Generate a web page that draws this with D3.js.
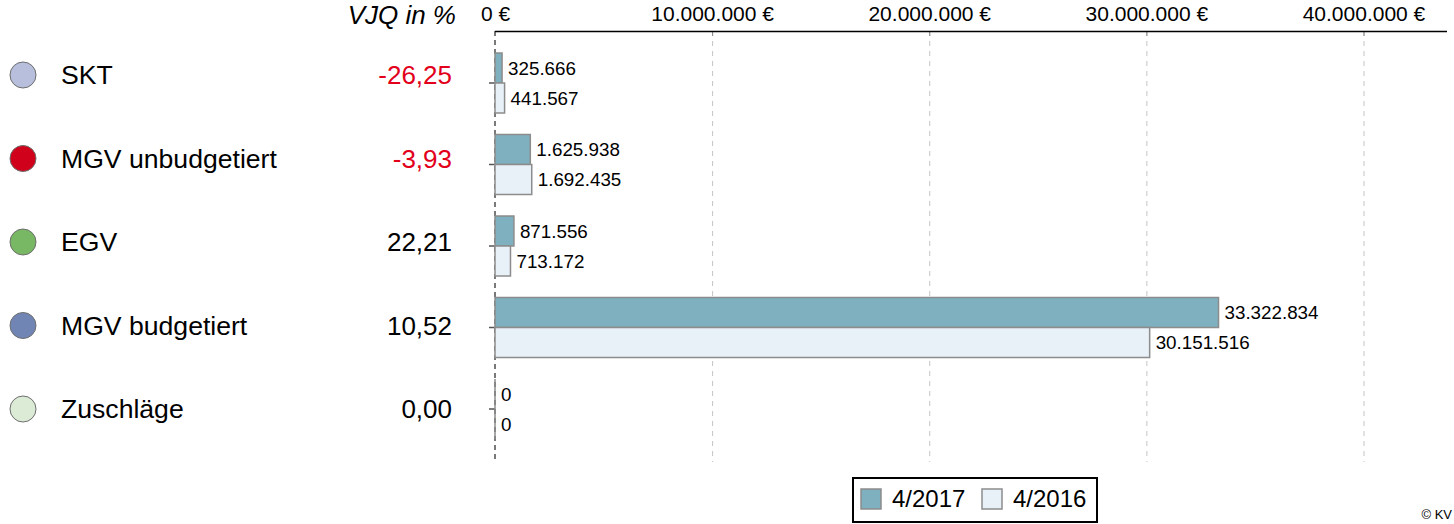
<!DOCTYPE html>
<html>
<head>
<meta charset="utf-8">
<script src="https://cdn.jsdelivr.net/npm/d3@7"></script>
<style>
  html, body { margin: 0; padding: 0; background: #fff; }
  svg { display: block; font-family: "Liberation Sans", Arial, sans-serif; }
</style>
</head>
<body>
<svg id="chart" width="1454" height="524"></svg>
<script>
// Kategorien und Werte
const categories = ["SKT", "MGV unbudgetiert", "EGV", "MGV budgetiert", "Zuschläge"];
const categoryColors = ["#b7bfdc", "#d0011b", "#78b864", "#7185b4", "#dcebd6"];
const vjq = [-26.25, -3.93, 22.21, 10.52, 0.00];
const series = ["4/2017", "4/2016"];
const values2017 = [325666, 1625938, 871556, 33322834, 0];
const values2016 = [441567, 1692435, 713172, 30151516, 0];
const xTicks = [0, 10000000, 20000000, 30000000, 40000000];
const xMax = 43800000;

const barColors = { "4/2017": "#7fb0bf", "4/2016": "#e8f1f7" };
const barStroke = "#8c8c8c";
const negColor = "#e2001a";

const svg = d3.select("#chart");

const de = d3.formatLocale({ decimal: ",", thousands: ".", grouping: [3], currency: ["", " €"], minus: "-" });
const fmtInt = de.format(",.0f");
const fmtPct = de.format(".2f");

const plotTop = 31, plotBottom = 462;
const x = d3.scaleLinear().domain([0, xMax]).range([495, 1446]);
const y = d3.scaleBand().domain(categories).range([42.25, 449.75]);
const y1 = d3.scaleBand().domain(series).range([-30, 30]);

// Gitterlinien
const grid = svg.append("g");
grid.selectAll("line.grid")
  .data(xTicks.filter(d => d > 0))
  .join("line")
  .attr("class", "grid")
  .attr("x1", d => x(d) + 0.5).attr("x2", d => x(d) + 0.5)
  .attr("y1", plotTop).attr("y2", plotBottom)
  .attr("stroke", "#c4c4c4").attr("stroke-width", 1)
  .attr("stroke-dasharray", "5,5");
grid.selectAll("line.tick")
  .data(xTicks.filter(d => d > 0))
  .join("line")
  .attr("class", "tick")
  .attr("x1", d => x(d) + 0.5).attr("x2", d => x(d) + 0.5)
  .attr("y1", plotTop).attr("y2", plotTop + 5)
  .attr("stroke", "#888").attr("stroke-width", 1);

// Nulllinie
svg.append("line")
  .attr("x1", x(0)).attr("x2", x(0))
  .attr("y1", plotTop).attr("y2", plotBottom)
  .attr("stroke", "#222").attr("stroke-width", 1.2)
  .attr("stroke-dasharray", "5,4");

// Kategorie-Ticks links
svg.append("g").selectAll("line")
  .data(categories)
  .join("line")
  .attr("x1", x(0) - 6).attr("x2", x(0))
  .attr("y1", d => y(d) + y.bandwidth() / 2).attr("y2", d => y(d) + y.bandwidth() / 2)
  .attr("stroke", "#555").attr("stroke-width", 1.5);

// Obere Achse
const xAxis = d3.axisTop(x)
  .tickValues(xTicks)
  .tickSize(0)
  .tickPadding(10)
  .tickFormat(d => fmtInt(d) + " €");
const ax = svg.append("g").attr("transform", `translate(0,${plotTop})`).call(xAxis);
ax.select(".domain").remove();
ax.selectAll("text")
  .attr("font-size", 21)
  .attr("fill", "#000")
  .attr("font-family", "Liberation Sans, Arial, sans-serif");
svg.append("line")
  .attr("x1", x(0)).attr("x2", 1447)
  .attr("y1", plotTop + 0.5).attr("y2", plotTop + 0.5)
  .attr("stroke", "#000").attr("stroke-width", 1.5);

// Balken
const rows = categories.map((c, i) => ({
  cat: c,
  bars: [
    { s: "4/2017", v: values2017[i] },
    { s: "4/2016", v: values2016[i] }
  ]
}));

const barG = svg.append("g").selectAll("g")
  .data(rows)
  .join("g")
  .attr("transform", d => `translate(0,${y(d.cat) + y.bandwidth() / 2})`);

barG.selectAll("path")
  .data(d => d.bars)
  .join("path")
  .attr("d", d => {
    const x0 = x(0), x1 = x(d.v), yy = y1(d.s), h = y1.bandwidth();
    return `M${x0},${yy}H${x1}V${yy + h}H${x0}Z`;
  })
  .attr("fill", d => barColors[d.s])
  .attr("stroke", barStroke)
  .attr("stroke-width", 1.5);

barG.selectAll("text")
  .data(d => d.bars)
  .join("text")
  .attr("x", d => x(d.v) + 6)
  .attr("y", d => y1(d.s) + y1.bandwidth() / 2)
  .attr("dy", "0.35em")
  .attr("font-size", 18.8)
  .attr("fill", "#000")
  .text(d => fmtInt(d.v));

// Tabelle links
const yt = d3.scalePoint().domain(categories).range([75, 409]);

svg.append("text")
  .attr("x", 456).attr("y", 24)
  .attr("text-anchor", "end")
  .attr("font-size", 26)
  .attr("font-style", "italic")
  .attr("fill", "#000")
  .text("VJQ in %");

const table = svg.append("g").selectAll("g")
  .data(categories)
  .join("g")
  .attr("transform", d => `translate(0,${yt(d)})`);

table.append("circle")
  .attr("cx", 23).attr("cy", 0).attr("r", 13)
  .attr("fill", (d, i) => categoryColors[i])
  .attr("stroke", "#6e6e6e").attr("stroke-width", 1);

table.append("text")
  .attr("x", 61).attr("dy", "0.35em")
  .attr("font-size", 26.6)
  .attr("fill", "#000")
  .text(d => d);

table.append("text")
  .attr("x", 452).attr("dy", "0.35em")
  .attr("text-anchor", "end")
  .attr("font-size", 26)
  .attr("fill", (d, i) => vjq[i] < 0 ? negColor : "#000")
  .text((d, i) => fmtPct(vjq[i]));

// Legende
const legend = svg.append("g");
legend.append("rect")
  .attr("x", 853).attr("y", 478).attr("width", 244).attr("height", 44)
  .attr("fill", "#fff").attr("stroke", "#000").attr("stroke-width", 2);
const legX = [861, 982];
const li = legend.selectAll("g.item")
  .data(series)
  .join("g")
  .attr("class", "item")
  .attr("transform", (d, i) => `translate(${legX[i]},489)`);
li.append("rect")
  .attr("width", 20).attr("height", 20)
  .attr("fill", d => barColors[d])
  .attr("stroke", barStroke).attr("stroke-width", 1.5);
li.append("text")
  .attr("x", 31).attr("y", 18)
  .attr("font-size", 24)
  .attr("fill", "#000")
  .text(d => d);

svg.append("text")
  .attr("x", 1452).attr("y", 519)
  .attr("text-anchor", "end")
  .attr("font-size", 13)
  .attr("fill", "#000")
  .text("© KV");
</script>
</body>
</html>
